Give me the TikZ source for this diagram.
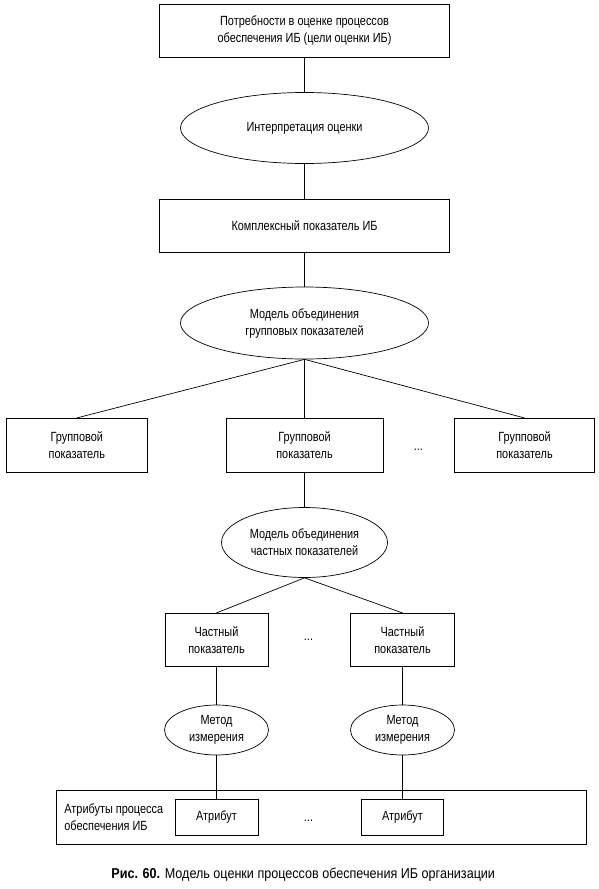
\documentclass[tikz,border=0pt]{standalone}
\usepackage{fontspec}
\setmainfont{Liberation Sans}[FakeStretch=0.82]
\newfontfamily\capfont{Liberation Sans}[FakeStretch=0.88]
\usetikzlibrary{positioning,shapes.geometric}

\begin{document}
\begin{tikzpicture}[on grid, line width=0.7pt,
  every node/.style={font=\fontsize{13.3}{17}\selectfont, align=center},
  box/.style={draw, rectangle, inner sep=0pt, minimum height=53pt},
  oval/.style={draw, ellipse, inner sep=0pt}]
  \useasboundingbox (0,0) rectangle (599pt,-889pt);
  \node[box, minimum width=290pt]  (needs)  at (304.5pt,-30.8pt) {Потребности в оценке процессов\\обеспечения ИБ (цели оценки ИБ)};
  \node[oval, minimum width=248pt, minimum height=71pt] (interp) [below=97.2pt of needs]  {Интерпретация оценки};
  \node[box, minimum width=290pt]  (total)  [below=97.8pt of interp] {Комплексный показатель ИБ};
  \node[oval, minimum width=248pt, minimum height=72pt] (grpmodel) [below=97.2pt of total] {Модель объединения\\групповых показателей};
  \node[box, minimum width=157pt, minimum height=54pt] (grp2) [below=122.3pt of grpmodel] {Групповой\\показатель};
  \node[box, minimum width=141pt, minimum height=54pt] (grp1) [left=227.7pt of grp2]  {Групповой\\показатель};
  \node[box, minimum width=140pt, minimum height=54pt] (grp3) [right=220pt of grp2]  {Групповой\\показатель};
  \node (dots1) [below right=4.7pt and 113.9pt of grp2] {...};
  \node[oval, minimum width=166pt, minimum height=70pt] (partmodel) [below=97.2pt of grp2] {Модель объединения\\частных показателей};
  \node[box, minimum width=103pt] (part1) [below left=97.3pt and 88pt of partmodel]  {Частный\\показатель};
  \node[box, minimum width=104pt] (part2) [below right=97.3pt and 98pt of partmodel] {Частный\\показатель};
  \node (dots2) [right=92pt of part1] {...};
  \node[oval, minimum width=104pt, minimum height=50pt] (meth1) [below=90.2pt of part1] {Метод\\измерения};
  \node[oval, minimum width=104pt, minimum height=50pt] (meth2) [below=90.2pt of part2] {Метод\\измерения};
  \node[box, minimum width=83pt, minimum height=36pt] (attr1) [below=87.3pt of meth1] {Атрибут};
  \node[box, minimum width=82pt, minimum height=36pt] (attr2) [below=87.3pt of meth2] {Атрибут};
  \node (dots3) [below right=3.7pt and 92pt of attr1] {...};
  \node[box, minimum width=530pt, minimum height=54pt] (attrs) at (321.6pt,-817.2pt) {};
  \node[anchor=west, align=left] (attrslabel) at ([xshift=4.5pt]attrs.west) {Атрибуты процесса\\обеспечения ИБ};
  \node (caption) at (303.2pt,-875pt) {\capfont\fontsize{14.3}{17}\selectfont\textbf{Рис. 60.} Модель оценки процессов обеспечения ИБ организации};

  \draw (needs) -- (interp) -- (total) -- (grpmodel);
  \draw (grpmodel.south) -- (grp1.north);
  \draw (grpmodel.south) -- (grp2.north);
  \draw (grpmodel.south) -- (grp3.north);
  \draw (grp2) -- (partmodel);
  \draw (partmodel.south) -- (part1.north);
  \draw (partmodel.south) -- (part2.north);
  \draw (part1) -- (meth1) -- (attr1);
  \draw (part2) -- (meth2) -- (attr2);
\end{tikzpicture}
\end{document}
